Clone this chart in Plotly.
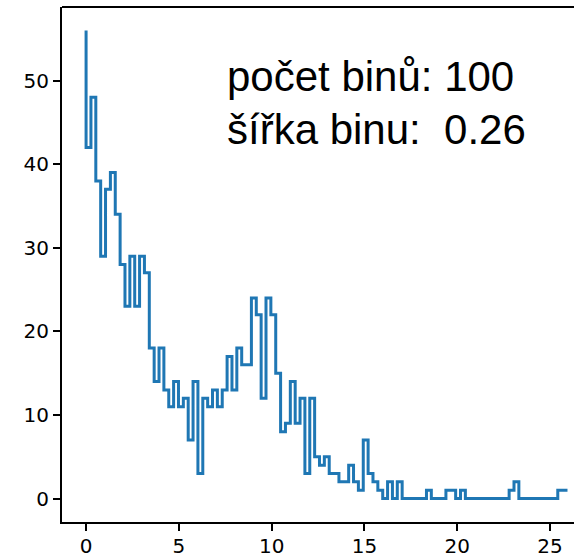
import numpy as np
import plotly.graph_objects as go

# histogram counts (100 bins)
counts = [56, 42, 48, 38, 29, 37, 39, 34, 28, 23,
          29, 23, 29, 27, 18, 14, 18, 13, 11, 14,
          11, 12, 7, 14, 3, 12, 11, 13, 11, 13,
          17, 13, 18, 16, 16, 24, 22, 12, 24, 22,
          15, 8, 9, 14, 9, 12, 3, 12, 5, 4,
          5, 3, 3, 2, 2, 4, 2, 1, 7, 3,
          2, 1, 0, 2, 0, 2, 0, 0, 0, 0,
          0, 1, 0, 0, 0, 1, 1, 0, 1, 0,
          0, 0, 0, 0, 0, 0, 0, 0, 1, 2,
          0, 0, 0, 0, 0, 0, 0, 0, 1, 1]
bin_width = 0.262
n_bins = 100
x_ticks = [0, 5, 10, 15, 20, 25]
y_ticks = [0, 10, 20, 30, 40, 50]
label_bins = "počet binů: 100"
label_width = "šířka binu:  0.26"

x = np.arange(n_bins) * bin_width

fig = go.Figure()
fig.add_trace(go.Scatter(
    x=x, y=counts, mode="lines", line_shape="vh",
    line=dict(color="#1f77b4", width=3), hoverinfo="skip", showlegend=False,
))

W, H = 574, 558
L, R, T, B = 62, 0, 7, 36
pw = W - L - R
ph = H - T - B

axis_font = dict(family="DejaVu Sans", size=20, color="black")
fig.update_layout(
    width=W, height=H,
    margin=dict(l=L, r=R, t=T, b=B, pad=0),
    plot_bgcolor="white", paper_bgcolor="white",
    showlegend=False,
    xaxis=dict(
        range=[-1.2975, -1.2975 + pw / 18.56],
        tickvals=x_ticks, ticktext=[str(v) for v in x_ticks],
        showgrid=False, zeroline=False,
        showline=True, linecolor="black", linewidth=2,
        ticks="outside", ticklen=7, tickwidth=2, tickcolor="black",
        tickfont=axis_font, automargin=False, ticklabelstandoff=-2,
    ),
    yaxis=dict(
        range=[-2.8, 58.8],
        tickvals=y_ticks, ticktext=[str(v) for v in y_ticks],
        showgrid=False, zeroline=False,
        showline=True, linecolor="black", linewidth=2,
        ticks="outside", ticklen=7, tickwidth=2, tickcolor="black",
        tickfont=axis_font, automargin=False,
    ),
    shapes=[dict(type="line", xref="paper", yref="paper", x0=0, x1=1, y0=1, y1=1,
                 line=dict(color="black", width=2))],
)

text_font = dict(family="Liberation Sans, Arial", size=42, color="black")
x_left = (225 - L) / pw
for txt, ymid_px in [(label_bins, 77), (label_width, 130)]:
    fig.add_annotation(
        text=txt, xref="paper", yref="paper",
        x=x_left, y=1 - (ymid_px - T) / ph,
        xanchor="left", yanchor="middle", showarrow=False,
        font=text_font,
    )

fig.write_html("out.html")
